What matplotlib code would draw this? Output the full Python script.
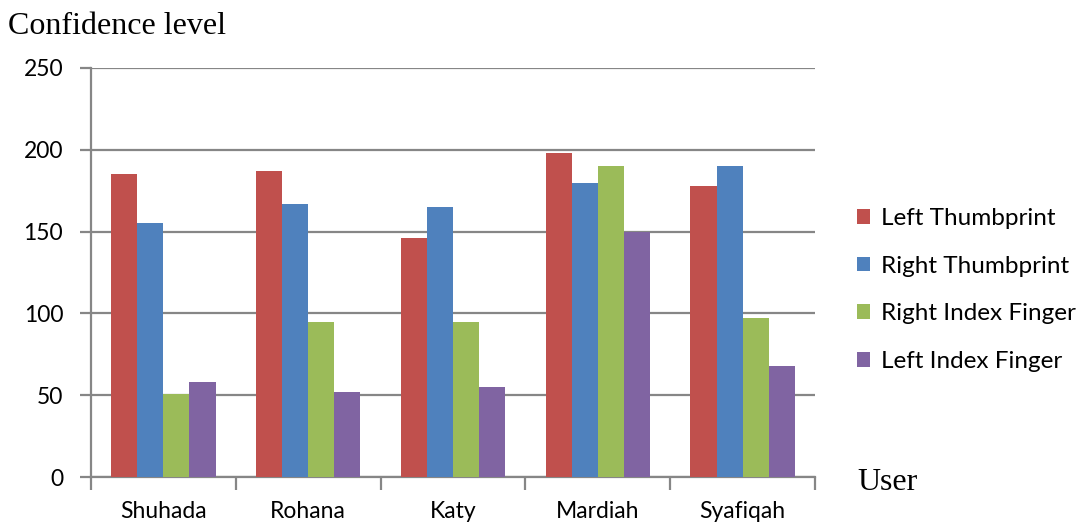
import numpy as np
import matplotlib.pyplot as plt

# Datos
users = ['Shuhada', 'Rohana', 'Katy', 'Mardiah', 'Syafiqah']
left_thumb = [185, 187, 146, 198, 178]
right_thumb = [155, 167, 165, 180, 190]
right_index = [51, 95, 95, 190, 97]
left_index = [58, 52, 55, 150, 68]
series_names = ['Left Thumbprint', 'Right Thumbprint', 'Right Index Finger', 'Left Index Finger']
y_ticks = [0, 50, 100, 150, 200, 250]

colors = ['#C0504D', '#4F81BD', '#9BBB59', '#8064A2']
grid_color = '#868686'

fig = plt.figure(figsize=(10.83, 5.27), dpi=100)
ax = fig.add_axes([91 / 1083, 1 - 477 / 527, (815 - 91) / 1083, (477 - 68) / 527])

x = np.arange(len(users))
width = 0.18
series = [left_thumb, right_thumb, right_index, left_index]
for i, values in enumerate(series):
    ax.bar(x + (i - 1.5) * width, values, width, color=colors[i],
           label=series_names[i], zorder=3)

# Ejes y rejilla
ax.set_xlim(-0.5, len(users) - 0.5)
ax.set_ylim(0, 250)
ax.set_yticks(y_ticks)
ax.yaxis.grid(True, color=grid_color, linewidth=1.6, zorder=0)
for side in ['top', 'right']:
    ax.spines[side].set_visible(False)
for side in ['left', 'bottom']:
    ax.spines[side].set_color(grid_color)
    ax.spines[side].set_linewidth(1.6)

ax.tick_params(axis='y', length=8, width=1.6, color=grid_color, pad=12,
               labelsize=16.5, labelfontfamily='Lato')
# Marcas entre categorias, etiquetas centradas
ax.set_xticks(np.arange(len(users) + 1) - 0.5)
ax.set_xticklabels([])
ax.set_xticks(x, minor=True)
ax.set_xticklabels(users, minor=True, fontsize=16.5, family='Lato')
ax.tick_params(axis='x', which='major', length=9, width=1.6, color=grid_color)
ax.tick_params(axis='x', which='minor', length=0, pad=17)

fig.text(8 / 1083, 1 - 27 / 527, 'Confidence level', family='Liberation Serif',
         fontsize=23, va='center', ha='left')
fig.text(857 / 1083, 1 - 483 / 527, 'User', family='Liberation Serif',
         fontsize=23, va='center', ha='left')

ax.legend(loc='center left', bbox_to_anchor=(835 / 1083, 1 - 290 / 527),
          bbox_transform=fig.transFigure, frameon=False,
          prop={'family': 'Lato', 'size': 17.5}, handlelength=0.55,
          handleheight=0.55, handletextpad=0.45, labelspacing=1.1)

plt.savefig('out.png')
